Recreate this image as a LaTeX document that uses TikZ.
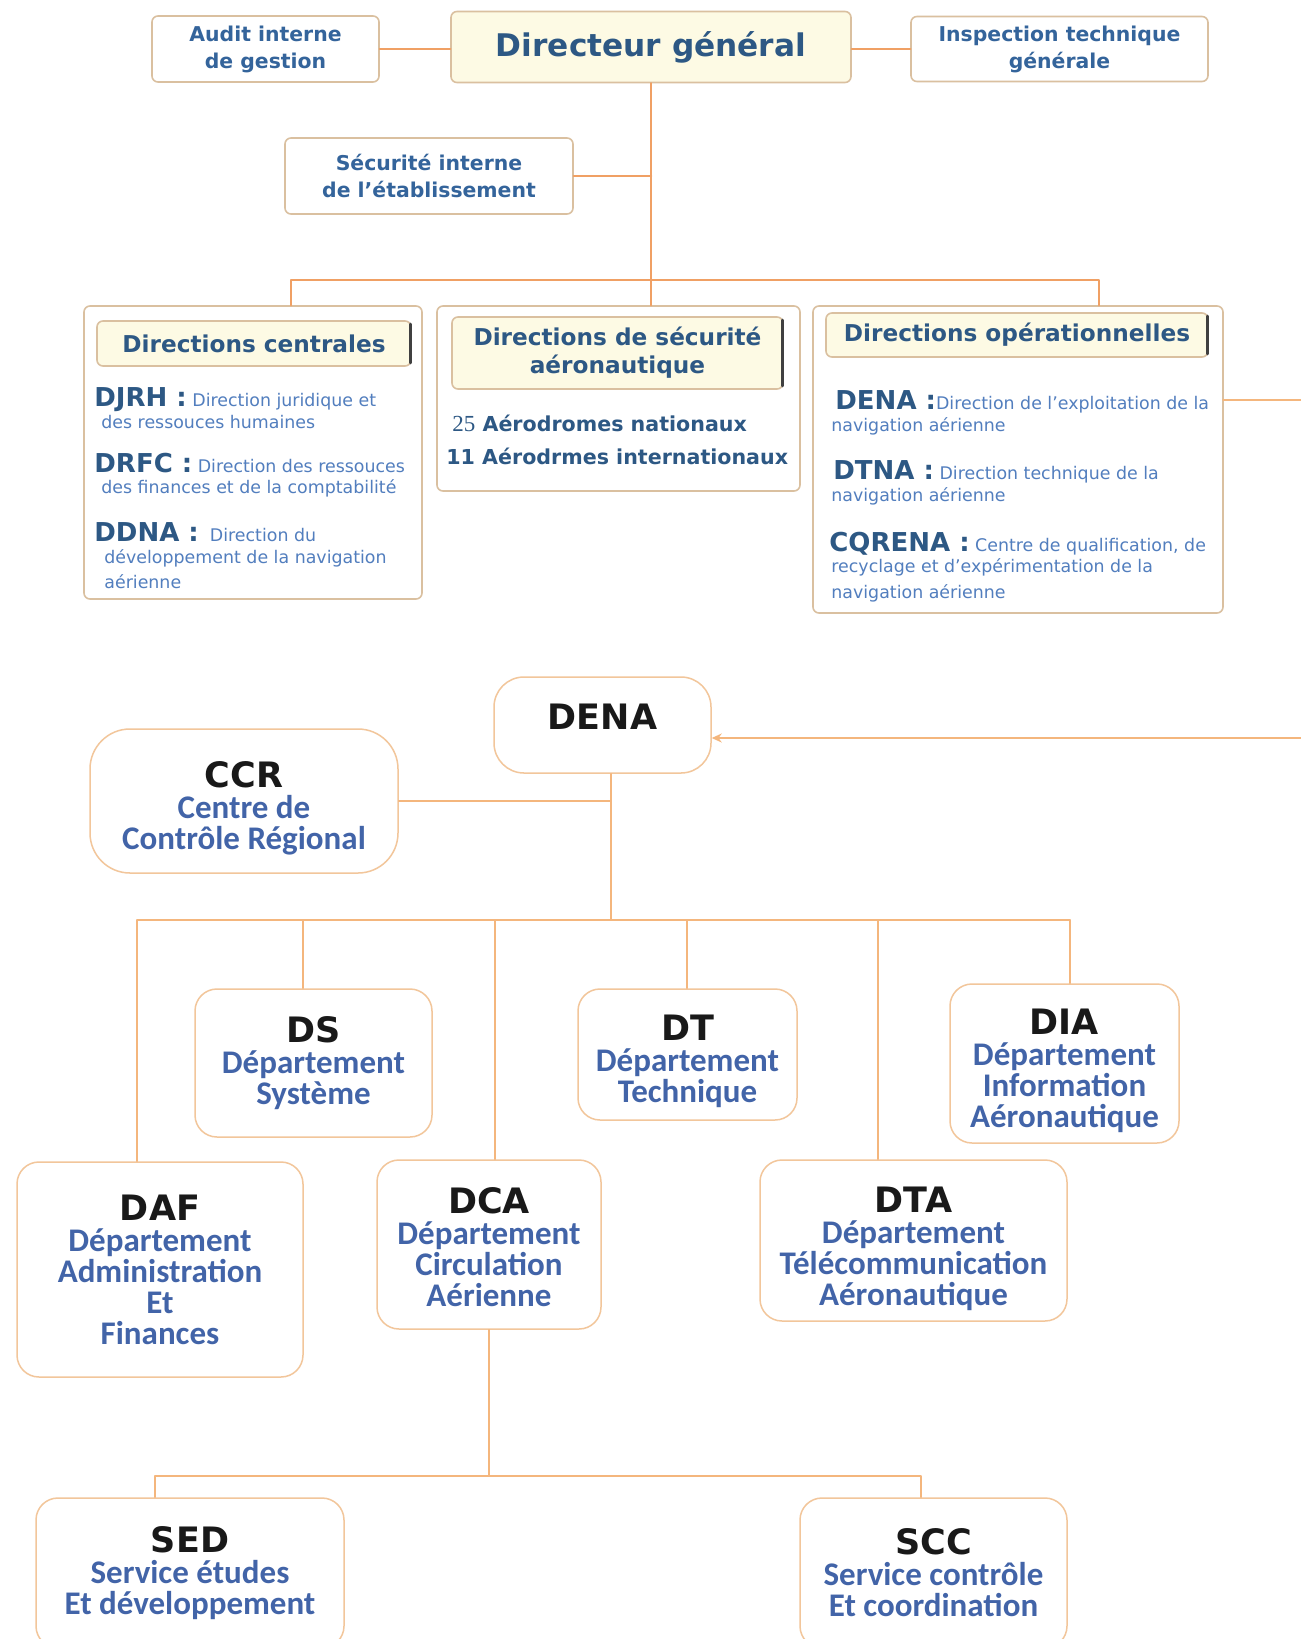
\documentclass[tikz,border=0pt]{standalone}
\usepackage{fontspec}
\usetikzlibrary{arrows.meta}
\setmainfont{DejaVu Sans}
\newfontfamily\carlito{Carlito}
\newfontfamily\numserif{Liberation Serif}
\definecolor{lineor}{RGB}{240,160,100}
\definecolor{lineorl}{RGB}{244,182,125}
\definecolor{tanb}{RGB}{218,192,160}
\definecolor{oranb}{RGB}{242,198,155}
\definecolor{cream}{RGB}{253,250,228}
\definecolor{hblue}{RGB}{45,88,132}
\definecolor{tblue}{RGB}{52,100,155}
\definecolor{dblue}{RGB}{82,126,190}
\definecolor{lblue}{RGB}{66,100,168}
\definecolor{hblack}{RGB}{25,25,25}
\newcommand\ab[1]{{\fontsize{13}{13}\selectfont\bfseries\color{hblue}#1}}
\newcommand\hd[2][0pt]{{\normalfont\bfseries\fontsize{17.5}{15.5}\selectfont\color{hblack}\rule{0pt}{#1}#2}}
\begin{document}
\begin{tikzpicture}[x=0.5pt,y=-0.5pt,>={Stealth[length=5pt,width=4.5pt]},line join=round,line cap=round,
  ln/.style={draw=lineor,line width=1.3pt},
  lnb/.style={draw=lineorl,line width=0.75pt},
  topbox/.style={draw=tanb,line width=0.8pt,rounded corners=3pt,fill=white,inner sep=0pt,align=center,text=tblue,font=\bfseries\fontsize{10.2}{13.5}\selectfont},
  hdr/.style={topbox,fill=cream,text=hblue,font=\bfseries\fontsize{11.6}{14}\selectfont},
  frame/.style={draw=tanb,line width=0.8pt,rounded corners=3pt,inner sep=0pt},
  entry/.style={anchor=north west,inner sep=0pt,align=left,text=dblue,font=\fontsize{8.7}{12.75}\selectfont},
  aero/.style={anchor=west,inner sep=0pt,text=hblue,font=\bfseries\fontsize{10.3}{12}\selectfont},
  dept/.style={draw=oranb,line width=0.75pt,rounded corners=11pt,fill=white,inner sep=0pt,align=center,text=lblue,font=\carlito\bfseries\fontsize{16.5}{15.5}\selectfont}]
\useasboundingbox[fill=white] (0,0) rectangle (1301,1639);
\node[topbox,minimum width=113.5pt,minimum height=33pt] (audit) at (265.5,49) {Audit interne\\de gestion};
\node[hdr,minimum width=200pt,minimum height=35.5pt,font=\bfseries\fontsize{15.6}{16}\selectfont] (dg) at (651,47) {Directeur général};
\node[topbox,minimum width=148.5pt,minimum height=32.5pt] (insp) at (1059.5,49) {Inspection technique\\générale};
\node[topbox,minimum width=144pt,minimum height=38pt] (secu) at (429,176) {Sécurité interne\\de l'établissement};
\node[frame,minimum width=169pt,minimum height=146.5pt] (cen) at (253,452.5) {};
\node[frame,minimum width=181.5pt,minimum height=92.5pt] (sec) at (618.5,398.5) {};
\node[frame,minimum width=205pt,minimum height=153.5pt] (ope) at (1018,459.5) {};
\node[hdr,minimum width=157pt,minimum height=22.5pt] (hcen) at (254,343.5) {Directions centrales};
\node[hdr,minimum width=165.5pt,minimum height=36pt] (hsec) at (617.5,353) {Directions de sécurité\\aéronautique};
\node[hdr,minimum width=191pt,minimum height=22pt] (hope) at (1017,335) {Directions opérationnelles};
\foreach \h in {hcen,hsec,hope}
  \draw[line width=1.6pt,black!75] ([xshift=-0.6pt,yshift=-2pt]\h.north east) -- ([xshift=-0.6pt,yshift=2pt]\h.south east);
\node[entry] (djrh) at (94,387.5) {\ab{DJRH :} Direction juridique et\\[-2pt]\hspace*{3.5pt}des ressouces humaines};
\node[entry] (drfc) at (94,452.5) {\ab{DRFC :} Direction des ressouces\\[-2pt]\hspace*{3.5pt}des finances et de la comptabilité};
\node[entry] (ddna) at (94,522.5) {\ab{DDNA :}\ \ Direction du\\[-2pt]\hspace*{5pt}développement de la navigation\\\hspace*{5pt}aérienne};
\node[aero] (nat) at (452,423) {{\numserif\mdseries\fontsize{11.5}{12}\selectfont 25} Aérodromes nationaux};
\node[aero] (int) at (446,456) {11 Aérodrmes internationaux};
\node[entry] (edena) at (835,390.5) {\ab{DENA :}Direction de l'exploitation de la\\[-2pt]\hspace*{-2pt}navigation aérienne};
\node[entry] (edtna) at (833,460.5) {\ab{DTNA :} Direction technique de la\\[-2pt]\hspace*{-1pt}navigation aérienne};
\node[entry] (ecqr) at (829,531.5) {\ab{CQRENA :} Centre de qualification, de\\[-2pt]\hspace*{1pt}recyclage et d'expérimentation de la\\\hspace*{1pt}navigation aérienne};
\draw[ln] (audit.east) -- (audit.east -| dg.west);
\draw[ln] (insp.west -| dg.east) -- (insp.west);
\coordinate (tb) at (651,280);
\coordinate (tl) at (291,280);
\coordinate (tr) at (1099,280);
\draw[ln] (dg.south) -- (tb) -- (tb |- sec.north);
\draw[ln] (secu.east) -- (secu.east -| tb);
\draw[ln] (tl |- cen.north) -- (tl) -- (tr) -- (tr |- ope.north);
\node[dept,rounded corners=15pt,minimum width=108.5pt,minimum height=48pt,text depth=8pt] (dena) at (602.5,725) {\hd{DENA}};
\node[dept,rounded corners=20pt,minimum width=154pt,minimum height=72pt] (ccr) at (244,801) {\hd[20pt]{CCR}\\Centre de\\Contrôle Régional};
\node[dept,minimum width=118.5pt,minimum height=74pt] (ds) at (313.5,1063) {\hd{DS}\\Département\\Système};
\node[dept,minimum width=109.5pt,minimum height=65.5pt] (dt) at (687.5,1054.5) {\hd[20pt]{DT}\\Département\\Technique};
\node[dept,minimum width=114.5pt,minimum height=79.5pt] (dia) at (1064.5,1063.5) {\hd[20pt]{DIA}\\Département\\Information\\Aéronautique};
\node[dept,minimum width=143pt,minimum height=107.5pt] (daf) at (160,1269.5) {\hd{DAF}\\Département\\Administration\\Et\\Finances};
\node[dept,minimum width=112pt,minimum height=84.5pt] (dca) at (489,1244.5) {\hd[16pt]{DCA}\\Département\\Circulation\\Aérienne};
\node[dept,minimum width=153.5pt,minimum height=80.5pt] (dta) at (913.5,1240.5) {\hd[20.8pt]{DTA}\\Département\\Télécommunication\\Aéronautique};
\node[dept,minimum width=154pt,minimum height=75pt] (sed) at (190,1573) {\hd{SED}\\Service études\\Et développement};
\node[dept,minimum width=133.5pt,minimum height=75pt] (scc) at (933.5,1573) {\hd{SCC}\\Service contrôle\\Et coordination};
\coordinate (dout) at (1223,400);
\draw[lnb,->] (dout) -- ++(83,0) |- ([yshift=-6.5pt]dena.east);
\coordinate (dt0) at (611,920);
\draw[lnb] (dt0 |- dena.south) -- (dt0);
\draw[lnb] (ccr.east) -- (ccr.east -| dt0);
\foreach \x/\n in {137/daf,303/ds,495/dca,687/dt,878/dta,1070/dia}{
  \coordinate (k\n) at (\x,920);
  \draw[lnb] (k\n) -- (k\n |- \n.north);}
\draw[lnb] (kdaf) -- (kdia);
\coordinate (sb) at (489,1476);
\coordinate (ksed) at (155,1476);
\coordinate (kscc) at (921,1476);
\draw[lnb] (dca.south) -- (sb);
\draw[lnb] (ksed |- sed.north) -- (ksed) -- (kscc) -- (kscc |- scc.north);
\end{tikzpicture}
\end{document}
